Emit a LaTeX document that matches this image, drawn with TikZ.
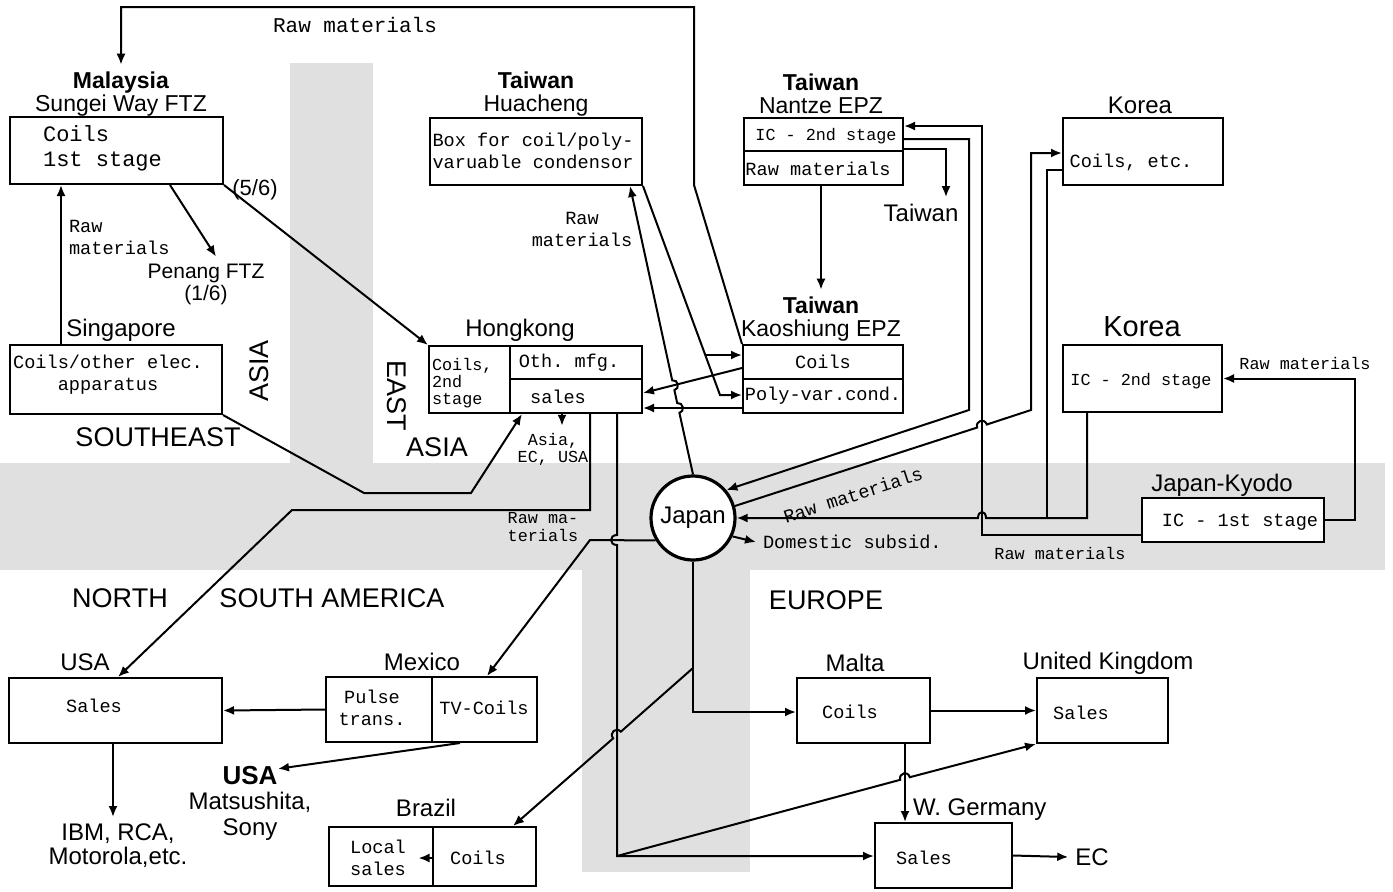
\documentclass[tikz,border=0pt]{standalone}
\usepackage{fontspec}
\setmainfont{Liberation Sans}
\setmonofont{Liberation Mono}
\usetikzlibrary{arrows.meta}
\tikzset{
  zone/.style={fill=black!12},
  box/.style={draw, line width=1pt, fill=white, inner sep=0pt},
  place/.style={font=\fontsize{12}{13.5}\selectfont, align=center},
  title/.style={font=\fontsize{11.5}{11.5}\selectfont, align=center},
  region/.style={font=\fontsize{13.5}{15}\selectfont},
  mono/.style={font=\ttfamily\fontsize{9.3}{11}\selectfont, align=center},
  monos/.style={font=\ttfamily\fontsize{8.4}{8.6}\selectfont, align=center},
  flow/.style={line width=1pt, -{Latex[length=5.5pt,width=4.5pt]}},
  link/.style={line width=1pt},
}

\begin{document}
\begin{tikzpicture}[x=0.5pt, y=-0.5pt]
  \fill[white] (0,0) rectangle (1393,891);
  \useasboundingbox (0,0) rectangle (1393,891);
  % stippled zones
  \fill[zone] (290,63) rectangle (373,467);
  \fill[zone] (0,463) rectangle (1385,570);
  \fill[zone] (582,566) rectangle (750,872);

  % boxes
  \node[box, minimum width=106.5pt, minimum height=33.5pt] (malaysia)  at (116.5,150.5) {};
  \node[box, minimum width=106pt,   minimum height=34.5pt] (singapore) at (116,379.5) {};
  \node[box, minimum width=106pt,   minimum height=33.5pt] (huacheng)  at (536,151.5) {};
  \node[box, minimum width=79.5pt,  minimum height=33.5pt] (nantze)    at (823.5,151.5) {};
  \node[box, minimum width=80pt,    minimum height=33.5pt] (koreacoil) at (1143,151.5) {};
  \node[box, minimum width=106.5pt, minimum height=33.5pt] (hongkong)  at (535.5,379.5) {};
  \node[box, minimum width=80pt,    minimum height=34pt]   (kaoshiung) at (823,379) {};
  \node[box, minimum width=79.5pt,  minimum height=33.5pt] (koreaic)   at (1142.5,378.5) {};
  \node[box, minimum width=91pt,    minimum height=22pt]   (kyodo)     at (1233,520) {};
  \node[box, circle, line width=1.6pt, minimum size=42pt,
        font=\fontsize{12}{13}\selectfont] (japan) at (693,518) {Japan};
  \node[box, minimum width=106.5pt, minimum height=32.5pt] (usa)       at (115.5,710.5) {};
  \node[box, minimum width=105.5pt, minimum height=32.5pt] (mexico)    at (431.5,709.5) {};
  \node[box, minimum width=103.5pt, minimum height=29.5pt] (brazil)    at (432.5,856.5) {};
  \node[box, minimum width=66.5pt,  minimum height=32.5pt] (malta)     at (863.5,710.5) {};
  \node[box, minimum width=65.5pt,  minimum height=32.5pt] (uk)        at (1102.5,710.5) {};
  \node[box, minimum width=68.5pt,  minimum height=32.5pt] (germany)   at (943.5,855.5) {};

  % dividers
  \draw[link] (nantze.west |- 0,151) -- (nantze.east |- 0,151);
  \draw[link] (hongkong.north -| 510,0) -- (hongkong.south -| 510,0);
  \draw[link] (510,379) -- (hongkong.east |- 0,379);
  \draw[link] (kaoshiung.west) -- (kaoshiung.east);
  \draw[link] (mexico.north) -- (mexico.south);
  \draw[link] (brazil.north) -- (brazil.south);

  % titles
  \node[title] (malaysiaT) at (121,94) {\textbf{Malaysia}\\Sungei Way FTZ};
  \node[place] (singaporeT) at (121,330) {Singapore};
  \node[title] (huachengT) at (536,94) {\textbf{Taiwan}\\Huacheng};
  \node[title] (nantzeT) at (821,94) {\textbf{Taiwan}\\Nantze EPZ};
  \node[place] (koreacoilT) at (1140,105) {Korea};
  \node[place] (hongkongT) at (520,330) {Hongkong};
  \node[title] (kaoshiungT) at (821,319) {\textbf{Taiwan}\\Kaoshiung EPZ};
  \node[place, font=\fontsize{14.5}{16}\selectfont] (koreaicT) at (1142,327) {Korea};
  \node[place] (kyodoT) at (1222,485) {Japan-Kyodo};
  \node[place] (usaT) at (85,662) {USA};
  \node[place] (mexicoT) at (422,662) {Mexico};
  \node[place] (brazilT) at (426,808) {Brazil};
  \node[place] (maltaT) at (855,663) {Malta};
  \node[place] (ukT) at (1108,663) {United Kingdom};
  \node[place, anchor=west] (germanyT) at (906,810) {W. Germany};

  % box contents
  \node[mono, font=\ttfamily\fontsize{11}{12.5}\selectfont, align=left, anchor=west]
    (malaysiaC) at (36,148) {Coils\\1st stage};
  \node[mono] (singaporeC) at (108,375) {Coils/other elec.\\apparatus};
  \node[mono] (huachengC) at (533,151) {Box for coil/poly-\\varuable condensor};
  \node[monos] (nantzeIC) at (826,136) {IC - 2nd stage};
  \node[mono] (nantzeRaw) at (818,169) {Raw materials};
  \node[mono] (koreacoilC) at (1131,162) {Coils, etc.};
  \node[monos, align=left, anchor=west] (hongkongC) at (425,383) {Coils,\\2nd\\stage};
  \node[mono] (hongkongO) at (569,363) {Oth. mfg.};
  \node[mono] (hongkongS) at (558,397) {sales};
  \node[mono] (kaoshiungC) at (823,362) {Coils};
  \node[mono] (kaoshiungP) at (823,396) {Poly-var.cond.};
  \node[monos] (koreaicC) at (1141,381) {IC - 2nd stage};
  \node[mono] (kyodoC) at (1240,522) {IC - 1st stage};
  \node[mono] (usaC) at (94,706) {Sales};
  \node[mono] (mexicoP) at (372,708) {Pulse\\trans.};
  \node[mono] (mexicoC) at (484,708) {TV-Coils};
  \node[mono] (brazilL) at (378,858) {Local\\sales};
  \node[mono] (brazilC) at (478,858) {Coils};
  \node[mono] (maltaC) at (850,712) {Coils};
  \node[mono] (ukC) at (1081,713) {Sales};
  \node[mono] (germanyC) at (924,858) {Sales};

  % labels
  \node[mono, font=\ttfamily\fontsize{10.5}{12}\selectfont] (rawTop) at (355,25) {Raw materials};
  \node[place, font=\fontsize{11}{12}\selectfont] (share56) at (255,190) {(5/6)};
  \node[mono, align=left, anchor=west] (rawSing) at (62,237) {Raw\\materials};
  \node[place, font=\fontsize{10.5}{11}\selectfont] (penang) at (206,284) {Penang FTZ\\(1/6)};
  \node[region, rotate=90] (asiaSE) at (259,371) {ASIA};
  \node[region] (southeast) at (158,437) {SOUTHEAST};
  \node[region, rotate=-90] (eastA) at (397,396) {EAST};
  \node[region] (asiaE) at (437,447) {ASIA};
  \node[mono] (rawHua) at (582,229) {Raw\\materials};
  \node[place] (taiwanT) at (921,213) {Taiwan};
  \node[monos] (asiaT) at (553,449) {Asia,\\EC, USA};
  \node[monos] (rawHK) at (543,527) {Raw ma-\\terials};
  \node[mono, rotate=18] (rawRot) at (853,495) {Raw materials};
  \node[mono, anchor=west] (domestic) at (756,542) {Domestic subsid.};
  \node[monos] (rawKyodo) at (1060,553) {Raw materials};
  \node[monos] (rawKorea) at (1305,363) {Raw materials};
  \node[region] (north) at (120,598) {NORTH};
  \node[region] (southam) at (332,598) {SOUTH AMERICA};
  \node[region] (europe) at (826,600) {EUROPE};
  \node[place, font=\fontsize{12}{12}\selectfont] (ibm) at (118,846) {IBM, RCA,\\Motorola,etc.};
  \node[place, font=\fontsize{12}{12.8}\selectfont] (usaB) at (250,803)
    {{\bfseries\fontsize{13}{13}\selectfont USA}\\Matsushita,\\Sony};
  \node[place] (ec) at (1092,857) {EC};

  % flows in Asia
  \draw[flow] (kaoshiung.north west) -- (694,185) -- (694,7)
    -- (malaysiaT.north |- 0,7) -- (malaysiaT.north);
  \draw[flow] (singapore.north -| 61,0) -- (malaysia.south -| 61,0);
  \draw[flow] (malaysia.south -| 170,0) -- ([xshift=5pt]penang.north);
  \draw[flow] (malaysia.south east) -- (hongkong.north west);
  \draw[flow] (singapore.south east) -- (364,493) -- (471,493) -- (hongkong.south -| 522,0);
  \draw[flow] (huacheng.south east) -- (720,395) -- (kaoshiung.west |- 0,395);
  \draw[flow] (705,355) -- (kaoshiung.west |- 0,355);
  \draw[flow] (japan.north) -- (679.4,412.9) .. controls +(5.9,-1.3) and +(5.9,-1.3) .. (677.2,403.1)
    -- (674.4,390.1) .. controls +(5.9,-1.3) and +(5.9,-1.3) .. (672.2,380.3)
    -- (huacheng.south -| 630,0);
  \draw[flow] (kaoshiung.west |- 0,368) -- (hongkong.east |- 0,393);
  \draw[flow] (kaoshiung.west |- 0,408) -- (hongkong.east |- 0,408);
  \draw[flow] (nantze.south -| kaoshiungT.north) -- (kaoshiungT.north);
  \draw[flow] (nantze.east |- 0,149) -- (946,149) -- (taiwanT.north -| 946,0);
  \draw[flow] (nantze.east |- 0,139) -- (969,139) -- (969,410) -- (japan.40);
  \draw[flow] (kyodo.west |- 0,535) -- (982,535) -- (982,126) -- (nantze.east |- 0,126);
  \draw[flow] (japan.16) -- (977.2,427.5) .. controls +(-2.2,-6.7) and +(-2.2,-6.7) .. (986.8,424.5)
    -- (1031,410) -- (1031,153) -- (koreacoil.west |- 0,153);
  \draw[link] (koreacoil.west |- 0,170) -- (1047,170) -- (1047,518);
  \draw[flow] (koreaic.south -| 1087,0) -- (1087,518) -- (986,518)
    .. controls +(0,-8) and +(0,-8) .. (978,518) -- (japan.east);
  \draw[flow] (kyodo.east) -- (1355,520) -- (1355,378.5) -- (koreaic.east);
  \draw[flow] (japan.-25) -- (domestic.west);
  \draw[flow] (hongkong.south -| 562,0) -- (asiaT.north -| 562,0);

  % flows to America and Europe
  \draw[flow] (hongkong.south -| 590,0) -- (590,510) -- (292,510) -- (usa.north -| 118,0);
  \draw[flow] (japan.211) -- (590,540) -- (mexico.north -| 487,0);
  \draw[flow] (hongkong.south -| 617,0) -- (617,535) .. controls +(-8,0) and +(-8,0) .. (617,545)
    -- (617,856) -- (germany.west |- 0,856);
  \draw[flow] (617,856) -- (900.2,779.8) .. controls +(-1.8,-6.8) and +(-1.8,-6.8) .. (909.8,777.2)
    -- (uk.south west);
  \draw[flow] (japan.south) -- (693,712) -- (malta.west |- 0,712);
  \draw[flow] (693,668) -- (620.8,731.7) .. controls +(-4.6,-5.3) and +(-4.6,-5.3) .. (613.2,738.3)
    -- (brazil.north -| 513,0);
  \draw[flow] (malta.east) -- (uk.west);
  \draw[flow] (malta.south -| 905,0) -- (germany.north -| 905,0);
  \draw[flow] (germany.east) -- (ec.west);
  \draw[flow] (mexico.west) -- (usa.east);
  \draw[flow] (mexico.south -| 460,0) -- ([xshift=14pt,yshift=-5pt]usaB.north);
  \draw[flow] (brazil.center |- 0,858) -- ++(-14,0);
  \draw[flow] (usa.south -| 113,0) -- (ibm.north -| 113,0);
\end{tikzpicture}
\end{document}
